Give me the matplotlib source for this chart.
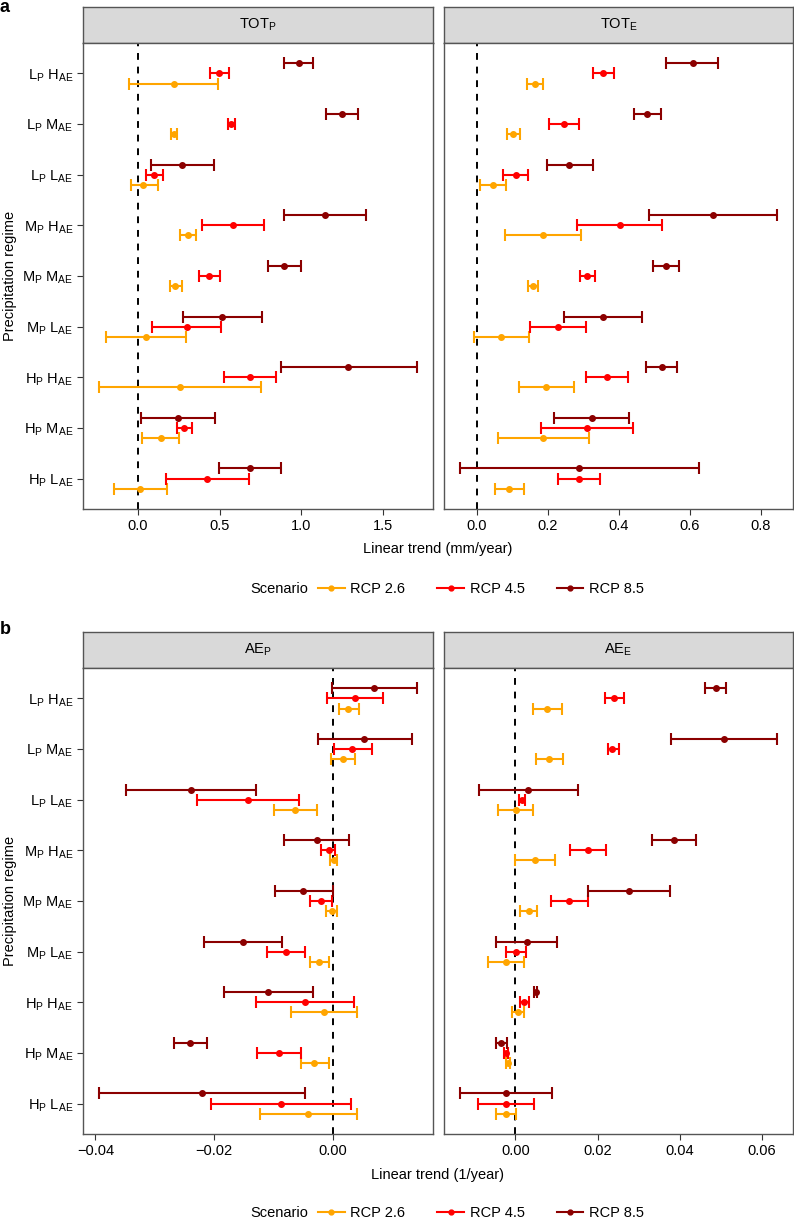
import matplotlib
matplotlib.use("Agg")
import numpy as np
import matplotlib.pyplot as plt
from matplotlib.lines import Line2D

plt.rcParams['font.family'] = ['Liberation Sans', 'DejaVu Sans']
plt.rcParams['mathtext.default'] = 'regular'

# categories, top to bottom
regimes = [r'L$_P$ H$_{AE}$', r'L$_P$ M$_{AE}$', r'L$_P$ L$_{AE}$',
           r'M$_P$ H$_{AE}$', r'M$_P$ M$_{AE}$', r'M$_P$ L$_{AE}$',
           r'H$_P$ H$_{AE}$', r'H$_P$ M$_{AE}$', r'H$_P$ L$_{AE}$']
scenarios = ['RCP 2.6', 'RCP 4.5', 'RCP 8.5']
colors = ['#FFA500', '#FF0000', '#8B0000']

# each row: [lower, estimate, upper]
totp_rcp26 = [[-0.051, 0.220, 0.489], [0.202, 0.220, 0.238], [-0.043, 0.035, 0.124],
              [0.259, 0.305, 0.354], [0.198, 0.228, 0.269], [-0.196, 0.049, 0.293],
              [-0.236, 0.257, 0.752], [0.026, 0.141, 0.253], [-0.147, 0.014, 0.179]]
totp_rcp45 = [[0.442, 0.499, 0.556], [0.550, 0.570, 0.595], [0.049, 0.098, 0.155],
              [0.393, 0.585, 0.774], [0.375, 0.438, 0.503], [0.088, 0.299, 0.511],
              [0.525, 0.684, 0.845], [0.238, 0.281, 0.332], [0.173, 0.424, 0.678]]
totp_rcp85 = [[0.892, 0.984, 1.071], [1.151, 1.248, 1.346], [0.079, 0.271, 0.466],
              [0.894, 1.145, 1.395], [0.794, 0.896, 0.998], [0.275, 0.515, 0.760],
              [0.876, 1.287, 1.707], [0.018, 0.246, 0.473], [0.499, 0.686, 0.878]]

tote_rcp26 = [[0.140, 0.163, 0.187], [0.084, 0.101, 0.120], [0.009, 0.044, 0.081],
              [0.079, 0.185, 0.293], [0.144, 0.158, 0.172], [-0.008, 0.068, 0.147],
              [0.118, 0.195, 0.272], [0.060, 0.187, 0.316], [0.050, 0.091, 0.132]]
tote_rcp45 = [[0.326, 0.356, 0.386], [0.204, 0.245, 0.287], [0.073, 0.109, 0.144],
              [0.283, 0.403, 0.522], [0.289, 0.311, 0.333], [0.149, 0.228, 0.306],
              [0.307, 0.365, 0.424], [0.181, 0.311, 0.439], [0.228, 0.287, 0.346]]
tote_rcp85 = [[0.533, 0.607, 0.680], [0.443, 0.479, 0.517], [0.196, 0.260, 0.326],
              [0.485, 0.665, 0.845], [0.496, 0.533, 0.570], [0.244, 0.356, 0.466],
              [0.477, 0.520, 0.563], [0.218, 0.324, 0.428], [-0.048, 0.287, 0.625]]

aep_rcp26 = [[0.0010, 0.0026, 0.0044], [-0.0003, 0.0017, 0.0038], [-0.0099, -0.0063, -0.0026],
             [-0.0005, 0.0002, 0.0008], [-0.0012, -0.0002, 0.0007], [-0.0038, -0.0023, -0.0007],
             [-0.0070, -0.0015, 0.0041], [-0.0054, -0.0032, -0.0007], [-0.0123, -0.0041, 0.0041]]
aep_rcp45 = [[-0.0010, 0.0037, 0.0084], [0.0002, 0.0033, 0.0066], [-0.0228, -0.0143, -0.0057],
             [-0.0019, -0.0007, 0.0003], [-0.0039, -0.0020, -0.0001], [-0.0111, -0.0079, -0.0047],
             [-0.0130, -0.0047, 0.0035], [-0.0127, -0.0090, -0.0053], [-0.0205, -0.0088, 0.0030]]
aep_rcp85 = [[-0.0002, 0.0070, 0.0142], [-0.0025, 0.0053, 0.0133], [-0.0349, -0.0239, -0.0129],
             [-0.0082, -0.0027, 0.0028], [-0.0098, -0.0050, 0.0000], [-0.0217, -0.0151, -0.0086],
             [-0.0184, -0.0109, -0.0034], [-0.0267, -0.0240, -0.0212], [-0.0394, -0.0221, -0.0046]]

aee_rcp26 = [[0.0043, 0.0077, 0.0113], [0.0050, 0.0082, 0.0115], [-0.0041, 0.0001, 0.0043],
             [0.0000, 0.0048, 0.0096], [0.0011, 0.0032, 0.0053], [-0.0066, -0.0023, 0.0022],
             [-0.0009, 0.0006, 0.0022], [-0.0023, -0.0017, -0.0012], [-0.0048, -0.0023, 0.0001]]
aee_rcp45 = [[0.0218, 0.0241, 0.0265], [0.0225, 0.0236, 0.0251], [0.0010, 0.0016, 0.0023],
             [0.0133, 0.0177, 0.0220], [0.0086, 0.0131, 0.0177], [-0.0023, 0.0001, 0.0026],
             [0.0012, 0.0022, 0.0032], [-0.0028, -0.0023, -0.0019], [-0.0090, -0.0023, 0.0046]]
aee_rcp85 = [[0.0460, 0.0487, 0.0512], [0.0379, 0.0507, 0.0637], [-0.0089, 0.0031, 0.0153],
             [0.0333, 0.0385, 0.0439], [0.0176, 0.0276, 0.0376], [-0.0047, 0.0028, 0.0101],
             [0.0045, 0.0049, 0.0053], [-0.0048, -0.0035, -0.0021], [-0.0134, -0.0023, 0.0089]]

W, H = 794, 1220
fig = plt.figure(figsize=(W / 100, H / 100), dpi=100)


def rect(x0, x1, ytop, ybot):
    return [x0 / W, 1 - ybot / H, (x1 - x0) / W, (ybot - ytop) / H]


def panel(x0, x1, ytop, ybot, title, series, xlim, xticks, fmt, ylabels):
    # strip on top
    sax = fig.add_axes(rect(x0, x1, ytop - 36, ytop))
    sax.set_facecolor('#D9D9D9')
    sax.set_xticks([])
    sax.set_yticks([])
    for s in sax.spines.values():
        s.set_color('#555555')
        s.set_linewidth(1.0)
    sax.text(0.5, 0.5, title, ha='center', va='center', fontsize=10.5,
             transform=sax.transAxes)

    ax = fig.add_axes(rect(x0, x1, ytop, ybot))
    ypos = np.arange(len(regimes), 0, -1)
    offsets = [-0.2, 0.0, 0.2]
    for data, col, off in zip(series, colors, offsets):
        d = np.array(data)
        ax.errorbar(d[:, 1], ypos + off, xerr=[d[:, 1] - d[:, 0], d[:, 2] - d[:, 1]],
                    fmt='o', color=col, ecolor=col, ms=4, elinewidth=1.5,
                    capsize=4.5, capthick=1.5, zorder=3)
    ax.axvline(0, color='black', lw=1.4, ls=(0, (3.5, 3.5)), zorder=2)
    ax.set_xlim(xlim)
    ax.set_ylim(0.4, 9.6)
    ax.set_xticks(xticks)
    ax.set_xticklabels([fmt.format(v).replace('-', '\u2212') for v in xticks], fontsize=10.5)
    ax.set_yticks(ypos)
    if ylabels:
        ax.set_yticklabels(regimes, fontsize=10.5)
        ax.tick_params(axis='y', length=4, color='#333333', pad=3)
    else:
        ax.set_yticklabels([])
        ax.tick_params(axis='y', length=0)
    ax.tick_params(axis='x', length=4, color='#333333', pad=3)
    for s in ax.spines.values():
        s.set_color('#555555')
        s.set_linewidth(1.0)
    return ax


def legend(ymid):
    handles = [Line2D([], [], color=c, marker='o', ms=3.5, lw=1.5) for c in colors]
    fig.legend(handles, scenarios, loc='center', bbox_to_anchor=(481 / W, 1 - ymid / H),
               ncol=3, frameon=False, fontsize=10.5, handlelength=1.8, handletextpad=0.4,
               columnspacing=2.2, borderpad=0)
    fig.text(308 / W, 1 - ymid / H, 'Scenario', ha='right', va='center', fontsize=10.5)


# panel a
panel(83, 433, 43, 509, r'TOT$_P$', [totp_rcp26, totp_rcp45, totp_rcp85],
      (-0.334, 1.804), [0.0, 0.5, 1.0, 1.5], '{:.1f}', True)
panel(444, 793, 43, 509, r'TOT$_E$', [tote_rcp26, tote_rcp45, tote_rcp85],
      (-0.093, 0.89), [0.0, 0.2, 0.4, 0.6, 0.8], '{:.1f}', False)
fig.text(438 / W, 1 - 549 / H, 'Linear trend (mm/year)', ha='center', va='center', fontsize=10.5)
fig.text(10 / W, 1 - 276 / H, 'Precipitation regime', ha='center', va='center',
         rotation=90, fontsize=10.5)
legend(589)
fig.text(0.0, 1 - 7 / H, 'a', ha='left', va='center', fontsize=13, fontweight='bold')

# panel b
panel(83, 433, 668, 1134, r'AE$_P$', [aep_rcp26, aep_rcp45, aep_rcp85],
      (-0.0421, 0.0169), [-0.04, -0.02, 0.00], '{:.2f}', True)
panel(444, 793, 668, 1134, r'AE$_E$', [aee_rcp26, aee_rcp45, aee_rcp85],
      (-0.01735, 0.0675), [0.00, 0.02, 0.04, 0.06], '{:.2f}', False)
fig.text(438 / W, 1 - 1175 / H, 'Linear trend (1/year)', ha='center', va='center', fontsize=10.5)
fig.text(10 / W, 1 - 901 / H, 'Precipitation regime', ha='center', va='center',
         rotation=90, fontsize=10.5)
legend(1213)
fig.text(0.0, 1 - 630 / H, 'b', ha='left', va='center', fontsize=13, fontweight='bold')

fig.savefig('out.png', dpi=100)
